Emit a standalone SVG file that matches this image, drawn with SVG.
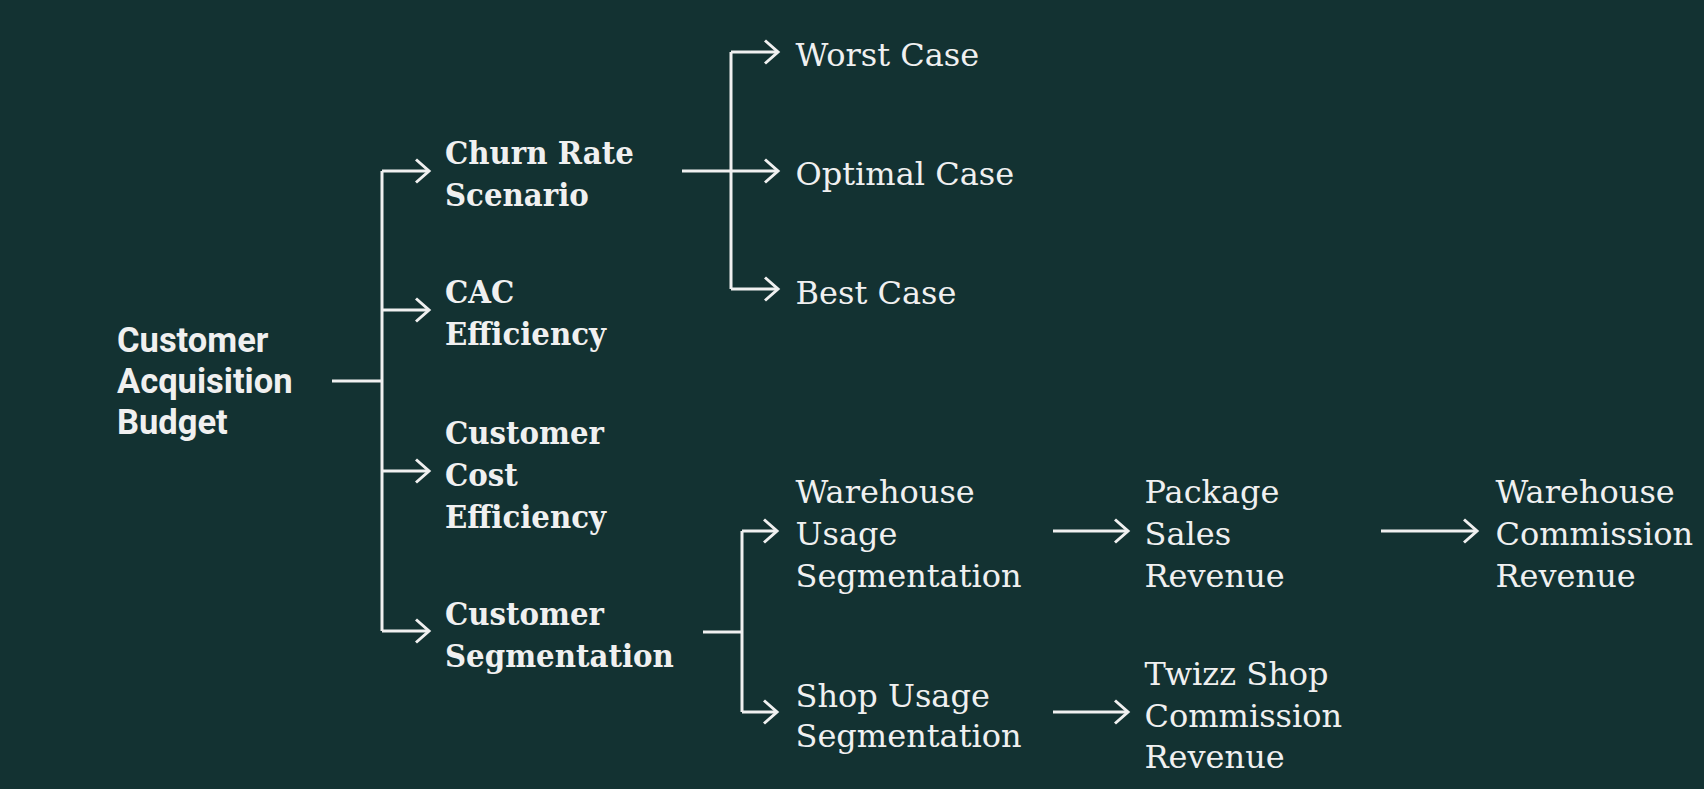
<svg xmlns="http://www.w3.org/2000/svg" width="1704" height="789" viewBox="0 0 1704 789">
<style>
.bg{fill:#133232}
.t{fill:#f0f0f0}
.root{font-family:Roboto,"Liberation Sans",sans-serif;font-weight:700;font-size:34.5px}
.b{font-family:"DejaVu Serif Condensed","DejaVu Serif",serif;font-weight:700;font-size:32.5px}
.r{font-family:"DejaVu Serif",serif;font-weight:400;font-size:32px}
.c path{fill:none;stroke:#f0f0f0;stroke-width:3}
.a{marker-end:url(#ah)}
</style>
<defs>
<marker id="ah" markerUnits="userSpaceOnUse" markerWidth="30" markerHeight="30" refX="15" refY="15" orient="auto" overflow="visible">
<path d="M2,3.5 L15,15 L2,26.5" fill="none" stroke="#f0f0f0" stroke-width="3"/>
</marker>
</defs>
<rect class="bg" x="0" y="0" width="1704" height="789"/>
<g id="connectors" class="c">
<path d="M332,381 H382"/>
<path d="M382,171 V631"/>
<path class="a" d="M382,171 H429"/>
<path class="a" d="M382,310 H429"/>
<path class="a" d="M382,471 H429"/>
<path class="a" d="M382,631 H429"/>
<path d="M731,52 V289"/>
<path class="a" d="M682,171 H778"/>
<path class="a" d="M731,52 H778"/>
<path class="a" d="M731,289 H778"/>
<path d="M703,632 H742"/>
<path d="M742,531 V712"/>
<path class="a" d="M742,531 H777"/>
<path class="a" d="M742,712 H777"/>
<path class="a" d="M1053,531 H1128"/>
<path class="a" d="M1053,712 H1128"/>
<path class="a" d="M1381,531 H1477"/>
</g>
<g id="n-root"><text class="t root" x="117" y="351.7">Customer<tspan x="117" dy="41.2">Acquisition</tspan><tspan x="117" dy="41.2">Budget</tspan></text></g>
<g id="n-churn"><text class="t b" x="445" y="164.3">Churn Rate<tspan x="445" dy="41.5">Scenario</tspan></text></g>
<g id="n-cac"><text class="t b" x="445" y="303.3">CAC<tspan x="445" dy="41.7">Efficiency</tspan></text></g>
<g id="n-cost"><text class="t b" x="445" y="444.3">Customer<tspan x="445" dy="41.7">Cost</tspan><tspan x="445" dy="41.7">Efficiency</tspan></text></g>
<g id="n-seg"><text class="t b" x="445" y="625">Customer<tspan x="445" dy="41.7">Segmentation</tspan></text></g>
<g id="n-worst"><text class="t r" x="795.5" y="66">Worst Case</text></g>
<g id="n-optimal"><text class="t r" x="795.5" y="185">Optimal Case</text></g>
<g id="n-best"><text class="t r" x="795.5" y="304.3">Best Case</text></g>
<g id="n-whuse"><text class="t r" x="795.5" y="503.3">Warehouse<tspan x="795.5" dy="41.7">Usage</tspan><tspan x="795.5" dy="41.7">Segmentation</tspan></text></g>
<g id="n-shopuse"><text class="t r" x="795.5" y="706.7">Shop Usage<tspan x="795.5" dy="40.6">Segmentation</tspan></text></g>
<g id="n-package"><text class="t r" x="1144.5" y="503.3">Package<tspan x="1144.5" dy="41.7">Sales</tspan><tspan x="1144.5" dy="41.7">Revenue</tspan></text></g>
<g id="n-twizz"><text class="t r" x="1144.5" y="685">Twizz Shop<tspan x="1144.5" dy="41.7">Commission</tspan><tspan x="1144.5" dy="41.7">Revenue</tspan></text></g>
<g id="n-whcomm"><text class="t r" x="1495.5" y="503.3">Warehouse<tspan x="1495.5" dy="41.7">Commission</tspan><tspan x="1495.5" dy="41.7">Revenue</tspan></text></g>
</svg>
